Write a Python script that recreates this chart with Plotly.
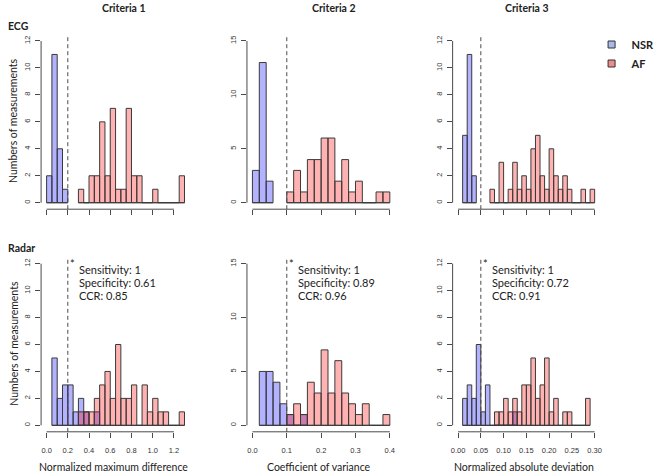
import numpy as np
import plotly.graph_objects as go

# ---------------- data ----------------
criteria = ["Criteria 1", "Criteria 2", "Criteria 3"]
row_labels = ["ECG", "Radar"]
x_titles = ["Normalized maximum difference", "Coefficient of variance", "Normalized absolute deviation"]
y_title = "Numbers of measurements"
series_names = ["NSR", "AF"]

bin_width = [0.05, 0.02, 0.01]
thresholds = [0.2, 0.1, 0.05]
x_limits = [(0.0, 1.3), (0.0, 0.4), (0.0, 0.3)]
y_limits = [12, 15, 12]

x_tick_vals = [[0.0, 0.2, 0.4, 0.6, 0.8, 1.0, 1.2],
               [0.0, 0.1, 0.2, 0.3, 0.4],
               [0.00, 0.05, 0.10, 0.15, 0.20, 0.25, 0.30]]
x_tick_text = [["0.0", "0.2", "0.4", "0.6", "0.8", "1.0", "1.2"],
               ["0.0", "0.1", "0.2", "0.3", "0.4"],
               ["0.00", "0.05", "0.10", "0.15", "0.20", "0.25", "0.30"]]
y_tick_vals = [[0, 2, 4, 6, 8, 10, 12], [0, 5, 10, 15], [0, 2, 4, 6, 8, 10, 12]]

# histogram counts: first bin start + counts per bin
ecg_c1_nsr_start, ecg_c1_nsr = 0.00, [2, 11, 4, 1]
ecg_c1_af_start, ecg_c1_af = 0.30, [1, 0, 2, 2, 6, 2, 7, 1, 1, 7, 2, 2, 0, 0, 1, 0, 0, 0, 0, 2]
ecg_c2_nsr_start, ecg_c2_nsr = 0.00, [3, 13, 2]
ecg_c2_af_start, ecg_c2_af = 0.10, [1, 3, 1, 4, 4, 6, 6, 2, 4, 1, 2, 0, 0, 1, 1]
ecg_c3_nsr_start, ecg_c3_nsr = 0.01, [5, 11, 2]
ecg_c3_af_start, ecg_c3_af = 0.07, [1, 0, 3, 0, 1, 3, 1, 2, 1, 4, 5, 2, 1, 4, 2, 1, 2, 1, 0, 0, 1, 0, 1]

radar_c1_nsr_start, radar_c1_nsr = 0.05, [5, 2, 3, 3, 1, 2, 1, 0, 1]
radar_c1_af_start, radar_c1_af = 0.30, [1, 1, 1, 2, 3, 4, 2, 6, 2, 2, 3, 0, 3, 1, 2, 1, 1, 0, 0, 1]
radar_c2_nsr_start, radar_c2_nsr = 0.02, [5, 5, 4, 2, 1, 0, 1]
radar_c2_af_start, radar_c2_af = 0.10, [1, 2, 1, 4, 3, 7, 3, 6, 3, 2, 1, 2, 0, 0, 1]
radar_c3_nsr_start, radar_c3_nsr = 0.01, [2, 3, 2, 6, 1, 3, 0, 0, 0, 0, 0, 1]
radar_c3_af_start, radar_c3_af = 0.08, [1, 1, 2, 1, 2, 1, 3, 3, 5, 2, 3, 5, 1, 2, 0, 1, 1, 0, 0, 0, 2]

sensitivity = ["1", "1", "1"]
specificity = ["0.61", "0.89", "0.72"]
ccr = ["0.85", "0.96", "0.91"]

hists = [
    [(ecg_c1_nsr_start, ecg_c1_nsr, ecg_c1_af_start, ecg_c1_af),
     (ecg_c2_nsr_start, ecg_c2_nsr, ecg_c2_af_start, ecg_c2_af),
     (ecg_c3_nsr_start, ecg_c3_nsr, ecg_c3_af_start, ecg_c3_af)],
    [(radar_c1_nsr_start, radar_c1_nsr, radar_c1_af_start, radar_c1_af),
     (radar_c2_nsr_start, radar_c2_nsr, radar_c2_af_start, radar_c2_af),
     (radar_c3_nsr_start, radar_c3_nsr, radar_c3_af_start, radar_c3_af)],
]

# ---------------- style / layout ----------------
W, H = 660, 476
col_left = [40.3, 252.6, 464.7]
col_right = [193.9, 405.6, 616.8]
row_top = [34.5, 257.2]
row_bottom = [209.2, 431.8]

fills = ["rgba(0,0,255,0.3)", "rgba(255,0,0,0.3)"]
legend_fills = ["#aab8ec", "#ec8c8c"]
edge = "#3a3a3a"
axis_col = "#4a4a4a"
text_col = "#222222"
txt_font = "Lato"
tick_font = "Liberation Sans"


def fx(p):
    return p / W


def fy(p):
    return 1 - p / H


fig = go.Figure()
layout_axes = {}
shapes = []
annotations = []

for r in range(2):
    for c in range(3):
        p = r * 3 + c + 1
        xa = "x" if p == 1 else f"x{p}"
        ya = "y" if p == 1 else f"y{p}"
        bw = bin_width[c]
        nsr_start, nsr, af_start, af = hists[r][c]
        for s, (start, counts) in enumerate([(nsr_start, nsr), (af_start, af)]):
            counts = np.array(counts)
            centers = start + bw * (np.arange(len(counts)) + 0.5)
            fig.add_trace(go.Bar(
                x=centers, y=counts, width=bw, xaxis=xa, yaxis=ya,
                marker=dict(color=fills[s], line=dict(color=edge, width=1)),
                name=series_names[s], showlegend=False, hoverinfo="skip"))
            fig.add_trace(go.Scatter(
                x=[start, start + bw * len(counts)], y=[0, 0], mode="lines",
                xaxis=xa, yaxis=ya, line=dict(color=edge, width=1),
                showlegend=False, hoverinfo="skip"))

        lo, hi = x_limits[c]
        span = hi - lo
        ymax = y_limits[c]
        xkey = "xaxis" if p == 1 else f"xaxis{p}"
        ykey = "yaxis" if p == 1 else f"yaxis{p}"
        layout_axes[xkey] = dict(
            domain=[fx(col_left[c]), fx(col_right[c])],
            range=[lo - 0.04 * span, hi + 0.04 * span],
            anchor=ya, tickmode="array", tickvals=x_tick_vals[c], ticktext=x_tick_text[c],
            showticklabels=(r == 1), ticks="outside", ticklen=5, tickwidth=1, tickcolor=axis_col,
            ticklabelstandoff=6,
            showline=False, showgrid=False, zeroline=False,
            tickfont=dict(family=tick_font, size=7.5, color="#333333"), fixedrange=True)
        layout_axes[ykey] = dict(
            domain=[fy(row_bottom[r]), fy(row_top[r])],
            range=[-0.04 * ymax, 1.04 * ymax],
            anchor=xa, tickmode="array", tickvals=y_tick_vals[c], tickangle=-90,
            ticks="outside", ticklen=5, tickwidth=1, tickcolor=axis_col,
            ticklabelstandoff=2,
            showline=False, showgrid=False, zeroline=False,
            tickfont=dict(family=tick_font, size=7.5, color="#333333"), fixedrange=True)

        # axis lines (R style: from first to last tick)
        shapes.append(dict(type="line", xref=xa, yref=f"{ya} domain",
                           x0=x_tick_vals[c][0], x1=x_tick_vals[c][-1], y0=0, y1=0,
                           line=dict(color=axis_col, width=1)))
        shapes.append(dict(type="line", xref=f"{xa} domain", yref=ya,
                           x0=0, x1=0, y0=y_tick_vals[c][0], y1=y_tick_vals[c][-1],
                           line=dict(color=axis_col, width=1)))
        # threshold
        shapes.append(dict(type="line", xref=xa, yref=f"{ya} domain",
                           x0=thresholds[c], x1=thresholds[c], y0=0, y1=1,
                           line=dict(color=axis_col, width=1, dash="4px,3px")))

        if r == 1:
            annotations.append(dict(text="*", xref=xa, yref=f"{ya} domain",
                                    x=thresholds[c], y=1, xanchor="left", yanchor="top",
                                    xshift=0, yshift=2, showarrow=False,
                                    font=dict(family=txt_font, size=11, color=text_col)))
            for k, line in enumerate([f"Sensitivity: {sensitivity[c]}",
                                      f"Specificity: {specificity[c]}",
                                      f"CCR: {ccr[c]}"]):
                annotations.append(dict(text=line, xref=xa, yref="paper",
                                        x=thresholds[c], y=fy(269.5 + 13 * k),
                                        xanchor="left", yanchor="middle", xshift=9,
                                        showarrow=False,
                                        font=dict(family=txt_font, size=11, color=text_col)))
            annotations.append(dict(text=x_titles[c], xref="paper", yref="paper",
                                    x=fx((col_left[c] + col_right[c]) / 2 - 2), y=fy(467),
                                    xanchor="center", yanchor="middle", showarrow=False,
                                    font=dict(family=txt_font, size=10.5, color=text_col)))

# column titles
title_x = [126, 342.5, 541]
for c in range(3):
    annotations.append(dict(text=f"<b>{criteria[c]}</b>", xref="paper", yref="paper",
                            x=fx(title_x[c]), y=fy(8), xanchor="center", yanchor="middle",
                            showarrow=False, font=dict(family=txt_font, size=10.5, color=text_col)))
# row labels
row_label_y = [25.5, 248]
for r in range(2):
    annotations.append(dict(text=f"<b>{row_labels[r]}</b>", xref="paper", yref="paper",
                            x=fx(4), y=fy(row_label_y[r]), xanchor="left", yanchor="middle",
                            showarrow=False, font=dict(family=txt_font, size=10.5, color=text_col)))
    annotations.append(dict(text=y_title, xref="paper", yref="paper", textangle=-90,
                            x=fx(11.5), y=fy((row_top[r] + row_bottom[r]) / 2 - 1),
                            xanchor="center", yanchor="middle", showarrow=False,
                            font=dict(family=txt_font, size=10.5, color=text_col)))

# legend entries
for s in range(2):
    fig.add_trace(go.Scatter(x=[None], y=[None], mode="markers", name=f"<b>{series_names[s]}</b>",
                             marker=dict(symbol="square", size=7, color=legend_fills[s],
                                         line=dict(color="#333333", width=1)),
                             showlegend=True))

fig.update_layout(
    width=W, height=H, margin=dict(l=0, r=0, t=0, b=0),
    paper_bgcolor="white", plot_bgcolor="rgba(0,0,0,0)",
    barmode="overlay", shapes=shapes, annotations=annotations,
    showlegend=True,
    legend=dict(x=fx(608), y=fy(30), xanchor="left", yanchor="top",
                font=dict(family=txt_font, size=11, color=text_col),
                bgcolor="rgba(0,0,0,0)", borderwidth=0, tracegroupgap=0),
    **layout_axes)

fig.write_html("out.html", config={"displayModeBar": False},
               post_script="document.body.style.margin='0';")
